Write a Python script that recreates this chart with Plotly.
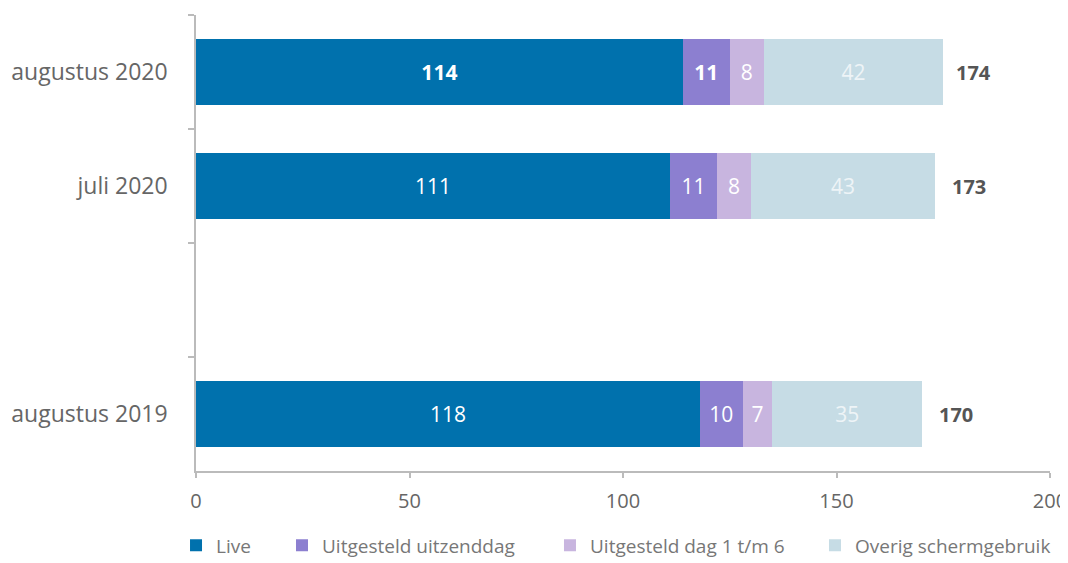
import plotly.graph_objects as go

categories = ["augustus 2020", "juli 2020", " ", "augustus 2019"]
series_names = ["Live", "Uitgesteld uitzenddag", "Uitgesteld dag 1 t/m 6", "Overig schermgebruik"]
live = [114, 111, None, 118]
uitgesteld_dag = [11, 11, None, 10]
uitgesteld_1_6 = [8, 8, None, 7]
overig = [42, 43, None, 35]
totals = [174, 173, None, 170]
x_ticks = [0, 50, 100, 150, 200]

colors = ["#0071ad", "#8c7fd0", "#c8b5df", "#c6dce5"]
text_colors = ["#ffffff", "#ffffff", "#ffffff", "#eef4f7"]
bold_first_row = [True, True, False, False]
legend_ids = ["legend", "legend2", "legend3", "legend4"]
legend_x = [-0.0234, 0.1007, 0.4145, 0.7248]
font = "Open Sans"

fig = go.Figure()
for i, (name, vals, c, tc) in enumerate(zip(series_names, [live, uitgesteld_dag, uitgesteld_1_6, overig], colors, text_colors)):
    texts = []
    for j, v in enumerate(vals):
        if v is None:
            texts.append("")
        elif j == 0 and bold_first_row[i]:
            texts.append(f"<b>{v}</b>")
        else:
            texts.append(str(v))
    fig.add_trace(go.Bar(
        y=categories, x=vals, name=name, orientation="h",
        marker=dict(color=c, line=dict(width=0)),
        text=texts,
        textposition="inside", insidetextanchor="middle",
        textfont=dict(color=tc, size=21, family=font),
        hoverinfo="skip", legend=legend_ids[i],
    ))

for cat, t in zip(categories, totals):
    if t is None:
        continue
    fig.add_annotation(x=t, y=cat, text=f"<b>{t}</b>", showarrow=False,
                       xanchor="left", xshift=15,
                       font=dict(size=20, color="#555555", family=font))

legend_common = dict(orientation="h", y=-0.163, yanchor="middle", xanchor="left",
                     font=dict(size=19, color="#777777", family=font),
                     bgcolor="rgba(0,0,0,0)", itemwidth=30)
layout_legends = {lid: dict(x=lx, **legend_common) for lid, lx in zip(legend_ids, legend_x)}

fig.update_layout(
    template="none",
    barmode="stack", bargap=0.425,
    width=1060, height=555,
    margin=dict(l=188, r=18, t=7, b=92, autoexpand=False),
    paper_bgcolor="white", plot_bgcolor="white",
    font=dict(family=font, color="#666666"),
    uniformtext=dict(mode="show", minsize=10),
    showlegend=True,
    **layout_legends,
)
fig.update_xaxes(range=[0, 200], tickvals=x_ticks, showgrid=False, zeroline=False,
                 showline=True, linecolor="#bbbbbb", linewidth=1.5, automargin=False,
                 ticks="outside", ticklen=5, tickcolor="#bbbbbb", tickwidth=1.5,
                 ticklabelstandoff=6,
                 tickfont=dict(size=20, color="#666666", family=font))
fig.update_yaxes(categoryorder="array", categoryarray=categories, autorange="reversed",
                 tickson="boundaries", ticks="outside", ticklen=6, tickcolor="#bbbbbb", tickwidth=1.5,
                 showline=True, linecolor="#bbbbbb", linewidth=1.5, showgrid=False, zeroline=False,
                 automargin=False, ticklabelstandoff=22,
                 tickfont=dict(size=23, color="#666666", family=font))

fig.write_html("out.html")
